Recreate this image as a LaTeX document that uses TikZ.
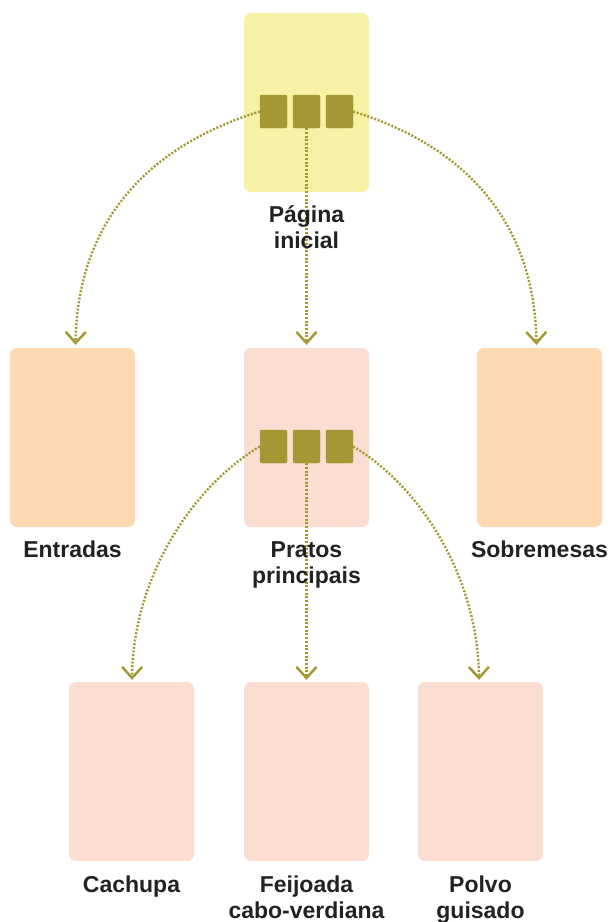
\documentclass[tikz,border=0pt]{standalone}
\usepackage{fontspec}
\setmainfont{Liberation Sans}
\usetikzlibrary{arrows.meta}
\definecolor{yel}{HTML}{F6F1A4}
\definecolor{peach}{HTML}{FED8B1}
\definecolor{pink}{HTML}{FCDDD2}
\definecolor{olive}{HTML}{A39834}
\definecolor{ink}{HTML}{222222}
\tikzset{
  card/.style={draw=none, rounded corners=7pt, minimum width=125pt, minimum height=179pt, inner sep=0pt},
  handle/.style={draw=none, fill=olive, rounded corners=2pt, minimum width=27pt, minimum height=33pt, inner sep=0pt},
  lbl/.style={text=ink, font=\fontsize{23}{26}\selectfont\bfseries, align=center, inner sep=0pt, anchor=base},
  link/.style={draw=olive, line width=2.4pt, dash pattern=on 2pt off 1.7pt,
    -{Straight Barb[length=11pt,width=20pt,line width=2.5pt]}}
}
\begin{document}
\begin{tikzpicture}[x=1pt,y=-1pt]
\useasboundingbox (0,0) rectangle (613,922);
% cards
\node[card, fill=yel]   (pg)  at (306.5,102.5) {};
\node[card, fill=peach] (ent) at (72.5,437.5) {};
\node[card, fill=pink]  (pra) at (306.5,437.5) {};
\node[card, fill=peach] (sob) at (539.5,437.5) {};
\node[card, fill=pink]  (cac) at (131.5,771.5) {};
\node[card, fill=pink]  (fei) at (306.5,771.5) {};
\node[card, fill=pink]  (pol) at (480.5,771.5) {};
% handles
\node[handle] (pgA) at (273.5,111.5) {};
\node[handle] (pgB) at (306.5,111.5) {};
\node[handle] (pgC) at (339.5,111.5) {};
\node[handle] (prA) at (273.5,446.5) {};
\node[handle] (prB) at (306.5,446.5) {};
\node[handle] (prC) at (339.5,446.5) {};
% arrow end points
\coordinate (entIn) at ([xshift=3pt,yshift=3pt]ent.north);
\coordinate (praIn) at ([yshift=3pt]pra.north);
\coordinate (sobIn) at ([xshift=-3pt,yshift=3pt]sob.north);
\coordinate (cacIn) at ([xshift=0.5pt,yshift=2pt]cac.north);
\coordinate (feiIn) at ([yshift=2pt]fei.north);
\coordinate (polIn) at ([xshift=-1.5pt,yshift=2pt]pol.north);
% connectors
\draw[link] (pgA.west) .. controls +(-110,34) and +(2,-125) .. (entIn);
\draw[link] (pgB.south) -- (praIn);
\draw[link] (pgC.east) .. controls +(110,34) and +(-2,-125) .. (sobIn);
\draw[link] (prA.west) .. controls +(-70,42) and +(1,-100) .. (cacIn);
\draw[link] (prB.south) -- (feiIn);
\draw[link] (prC.east) .. controls +(70,42) and +(-1,-100) .. (polIn);
% redraw handles above lines
\foreach \h in {pgA,pgB,pgC,prA,prB,prC} \fill[olive, rounded corners=2pt] (\h.south west) rectangle (\h.north east);
% labels (multi-line labels are placed by their last baseline)
\node[lbl] (tpg)  at (306.5,248) {Página\\inicial};
\node[lbl] (tent) at (72.5,557) {Entradas};
\node[lbl] (tpra) at (306.5,583) {Pratos\\principais};
\node[lbl] (tsob) at (539.5,557) {Sobremesas};
\node[lbl] (tcac) at (131.5,892) {Cachupa};
\node[lbl] (tfei) at (306.5,918) {Feijoada\\cabo-verdiana};
\node[lbl] (tpol) at (480.5,918) {Polvo\\guisado};
\end{tikzpicture}
\end{document}
